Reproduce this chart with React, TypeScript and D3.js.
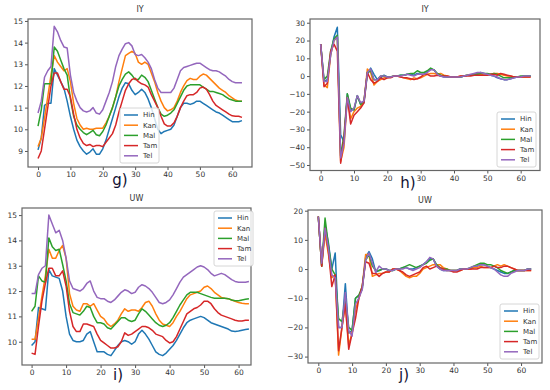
import React, { useEffect, useRef } from 'react';
import * as d3 from 'd3';

// frame index on the x axis (0..63)
const steps = d3.range(64);
const languages = ['Hin', 'Kan', 'Mal', 'Tam', 'Tel'];
const colors = ['#1f77b4', '#ff7f0e', '#2ca02c', '#d62728', '#9467bd'];

// g) IY
const iyHin = [
  9.05, 9.6, 11.1, 11.2, 11.2, 12.8, 12.5, 12.2, 11.9, 11.3, 10.6, 10.0, 9.5, 9.2, 9.0, 8.85,
  8.95, 9.1, 8.85, 8.85, 9.1, 9.5, 10.0, 10.5, 11.0, 11.5, 11.9, 12.15, 12.1, 11.8, 11.6, 11.7,
  11.85, 11.7, 11.4, 11.0, 10.5, 10.0, 9.8, 9.9, 9.95, 10.0, 10.2, 10.6, 11.0, 11.2, 11.2, 11.15,
  11.2, 11.3, 11.3, 11.2, 11.1, 11.0, 10.9, 10.8, 10.75, 10.65, 10.55, 10.45, 10.35, 10.35, 10.35, 10.4,
];
const iyKan = [
  9.2, 9.6, 10.5, 11.5, 12.5, 13.4, 13.1, 12.9, 12.7, 12.8, 12.2, 11.2, 10.5, 10.2, 10.0, 10.05,
  10.0, 10.0, 10.05, 10.05, 10.05, 10.3, 10.6, 11.0, 11.5, 12.2, 12.8, 13.4, 13.5, 13.6, 13.5, 13.1,
  13.0, 13.1, 13.0, 12.6, 12.2, 11.7, 11.3, 11.0, 10.85, 10.9, 11.0, 11.3, 11.7, 12.0, 12.25, 12.35,
  12.3, 12.3, 12.45, 12.55, 12.5, 12.35, 12.2, 12.05, 11.9, 11.8, 11.7, 11.55, 11.45, 11.35, 11.3, 11.3,
];
const iyMal = [
  10.15, 10.9, 12.1, 12.1, 12.1, 13.8, 13.6, 13.2, 12.8, 12.5, 11.4, 10.6, 10.2, 10.0, 9.85, 9.75,
  9.85, 9.95, 9.75, 9.7, 9.9, 10.2, 10.6, 11.0, 11.5, 12.0, 12.3, 12.55, 12.65, 12.5, 12.3, 12.3,
  12.5, 12.4, 12.2, 11.8, 11.4, 11.0, 10.7, 10.6, 10.65, 10.75, 10.9, 11.2, 11.5, 11.8, 12.0, 12.05,
  12.05, 12.05, 12.05, 11.95, 11.85, 11.75, 11.75, 11.7, 11.65, 11.6, 11.5, 11.4, 11.35, 11.3, 11.3, 11.3,
];
const iyTam = [
  8.65, 9.0, 10.0, 11.0, 12.0, 12.6, 12.6, 12.2, 11.85, 11.85, 11.5, 10.7, 10.0, 9.6, 9.35, 9.25,
  9.3, 9.2, 9.25, 9.25, 9.2, 9.4, 9.6, 9.8, 10.2, 10.8, 11.3, 11.8, 12.1, 12.3, 12.35, 12.2,
  12.1, 12.05, 11.95, 11.6, 11.3, 11.0, 10.6, 10.25, 10.15, 10.15, 10.3, 10.6, 11.0, 11.3, 11.55, 11.6,
  11.6, 11.7, 11.9, 11.95, 11.85, 11.6, 11.3, 11.1, 11.0, 10.9, 10.8, 10.7, 10.62, 10.6, 10.6, 10.55,
];
const iyTel = [
  10.75, 11.3, 12.4, 12.7, 12.9, 14.75, 14.5, 14.1, 13.8, 13.75, 12.5, 11.7, 11.3, 11.0, 10.85, 10.8,
  10.85, 11.0, 10.75, 10.7, 10.9, 11.3, 11.7, 12.2, 12.9, 13.4, 13.7, 13.95, 14.0, 13.85, 13.45, 13.4,
  13.45, 13.3, 13.1, 12.8, 12.3, 11.9, 11.7, 11.7, 11.7, 11.7, 11.9, 12.3, 12.7, 12.85, 12.9, 12.95,
  13.0, 13.05, 13.05, 12.95, 12.85, 12.75, 12.7, 12.7, 12.65, 12.55, 12.45, 12.3, 12.2, 12.15, 12.15, 12.15,
];

// h) IY delta
const iyDeltaHin = [
  18, -3, -2, 12, 22, 27.5, -33, -37, -10, -19, -19, -11, -16, -15, 1, 4.5,
  1, -2, -1, 0.5, -0.5, -0.5, 0, 0, 0.5, 0.5, 1, 1, 0.5, 1.5, 1, 1,
  2.5, 4, 3.5, 1, 0, -0.5, -0.5, -0.5, -0.5, -0.5, -0.5, 0, 0.5, 0.5, 1, 1.5,
  2, 1.5, 1, 0.5, 0, -1, -1.5, -2, -2, -1.5, -1, -0.5, -0.5, 0, 0, 0,
];
const iyDeltaKan = [
  18, -5, -6.5, 12, 20, 22, -48, -40, -12, -24, -20, -18, -17, -14, 4, 2,
  -5, -3, -2, -1, -1, -0.5, 0, 0, -0.5, -1, -1.5, -2, -1, -1.5, -1, 0,
  1, 1.5, 1.5, 1, 1.5, 0.5, 0, -0.5, -0.5, -0.5, 0, 0, 0.5, 0.5, 0.5, 1,
  1, 0.5, 0.5, 1, 1.5, 1.5, 1, 0.5, 0, 0, -0.5, -0.5, -0.5, -0.5, -0.5, -0.5,
];
const iyDeltaMal = [
  18, -2, 0, 14, 21, 23, -45, -33, -10, -18, -19, -11, -16, -14, 2, 3,
  -2, -2, 0, 0, -0.5, -0.5, 0, 0, 0.5, 0.5, 1, 1.5, 1.5, 3, 2, 2,
  3, 4.5, 3.5, 1.5, 0.5, 0, -0.5, -0.5, -0.5, -0.5, -0.5, 0, 0.5, 0.5, 1, 1,
  1.5, 1.5, 1.5, 1, 1.5, 1, 0, -1, -1, -1, -0.5, -0.5, 0, 0, 0, 0,
];
const iyDeltaTam = [
  18, -6, -4, 14, 18, 14, -49, -35, -12, -27, -22, -20, -18, -15, 2, -2,
  -4, -3, -1, -2, -1, -1, 0, 0, -0.5, -1, -1, -1.5, -2, -1.5, -0.5, 1,
  1, 0, 0, 0.5, 0, 0, 0, -0.5, -0.5, -0.5, 0, 0, 0, 0, 0.5, 0.5,
  0.5, 0.5, 0.5, 1, 1, 0.5, 1.5, 1, 0.5, 0, -0.5, -0.5, -0.5, -0.5, -0.5, -0.5,
];
const iyDeltaTel = [
  18, -3, -3, 12, 20, 22, -46, -38, -12, -20, -18, -11, -15, -14, 2, 4,
  -2, -2, 0, 0, -0.5, -0.5, 0, 0, 0, 0.5, 1, 0.5, 0, 1, 1, 1,
  2, 3.5, 3.5, 1, 0, -0.5, -0.5, -0.5, -0.5, -0.5, -0.5, 0, 0.5, 1, 1.5, 2,
  2, 1.5, 1, 0.5, 0, -0.5, -1.5, -2, -2, -1.5, -1, -0.5, -0.5, 0, 0, 0,
];

// i) UW
const uwHin = [
  9.85, 10.0, 11.35, 11.3, 11.25, 12.85, 12.6, 12.55, 12.5, 12.0, 11.0, 10.3, 10.05, 10.0, 10.0, 10.05,
  10.3, 10.4, 10.0, 9.6, 9.6, 9.6, 9.5, 9.45, 9.65, 9.85, 10.0, 10.05, 10.0, 9.9, 10.0, 10.3,
  10.45, 10.3, 10.1, 9.85, 9.6, 9.5, 9.45, 9.55, 9.7, 9.85, 10.05, 10.3, 10.55, 10.75, 10.85, 10.9,
  10.95, 11.0, 10.95, 10.85, 10.75, 10.7, 10.65, 10.6, 10.55, 10.5, 10.42, 10.4, 10.42, 10.45, 10.48, 10.5,
];
const uwKan = [
  10.1, 10.1, 10.9, 11.8, 12.6, 13.65, 13.3, 13.3, 13.6, 13.8, 13.3, 11.9, 11.4, 11.25, 11.2, 11.5,
  11.5, 11.4, 11.5, 11.25, 11.0, 10.9, 10.7, 10.6, 10.7, 10.85, 11.1, 11.3, 11.2, 11.25, 11.25, 11.2,
  11.35, 11.55, 11.6, 11.4, 11.1, 10.85, 10.7, 10.65, 10.6, 10.75, 11.0, 11.2, 11.45, 11.7, 11.85, 11.9,
  11.95, 12.0, 12.15, 12.2, 12.1, 11.95, 11.85, 11.75, 11.72, 11.7, 11.65, 11.6, 11.55, 11.52, 11.5, 11.5,
];
const uwMal = [
  11.2, 11.4, 12.6, 12.4, 12.35, 14.1, 13.75, 13.6, 13.65, 13.05, 12.4, 11.5, 11.15, 11.1, 11.05, 11.2,
  11.4, 11.35, 11.0, 10.75, 10.75, 10.7, 10.55, 10.5, 10.65, 10.8, 10.95, 10.95, 10.85, 10.8, 10.85, 11.1,
  11.3, 11.2, 11.05, 10.9, 10.75, 10.65, 10.6, 10.65, 10.75, 10.95, 11.2, 11.45, 11.65, 11.85, 11.95, 11.95,
  11.95, 11.9, 11.85, 11.8, 11.75, 11.72, 11.72, 11.72, 11.72, 11.7, 11.65, 11.62, 11.62, 11.65, 11.68, 11.7,
];
const uwTam = [
  9.55, 9.5, 10.6, 11.6, 12.3, 12.9, 12.9, 12.6, 12.6, 12.8, 12.2, 11.2, 10.6, 10.4, 10.4, 10.7,
  10.7, 10.65, 10.6, 10.3, 10.05, 9.95, 9.85, 9.75, 9.75, 9.8, 10.0, 10.35, 10.25, 10.3, 10.4, 10.5,
  10.6, 10.6, 10.55, 10.45, 10.3, 10.25, 10.2, 10.05, 9.95, 10.0, 10.2, 10.5, 10.8, 11.1, 11.2, 11.3,
  11.35, 11.45, 11.6, 11.6, 11.5, 11.3, 11.15, 11.05, 11.0, 10.95, 10.9, 10.85, 10.82, 10.82, 10.85, 10.85,
];
const uwTel = [
  11.9, 11.9, 12.65, 12.9, 13.0, 15.0, 14.65, 14.3, 14.4, 14.0, 13.3, 12.4, 12.1, 12.05, 12.0, 12.1,
  12.3, 12.4, 12.0, 11.75, 11.7, 11.7, 11.6, 11.55, 11.65, 11.8, 11.95, 12.05, 12.0, 11.9, 11.95, 12.15,
  12.25, 12.2, 12.1, 11.95, 11.75, 11.55, 11.5, 11.55, 11.65, 11.85, 12.1, 12.35, 12.55, 12.65, 12.75, 12.85,
  12.95, 13.0, 12.95, 12.85, 12.7, 12.6, 12.65, 12.7, 12.65, 12.55, 12.45, 12.38, 12.35, 12.35, 12.35, 12.38,
];

// j) UW delta
const uwDeltaHin = [
  18, 1, 15, 9, 0, 5.5, -20, -20, -5, -22, -21, -10, -9, -7, 4, 6,
  3.5, -1, -0.5, 0, 0, -0.5, -0.5, 0, 0, 0.5, 0.5, 0, 0, 0.5, 1, 1.5,
  2.5, 3.5, 3.5, 1, 0, -0.5, -0.5, -0.5, -0.5, -0.5, 0, 0, 0, 0, 0.5, 1,
  1.5, 1.5, 1, 0.5, 0, -0.5, -1, -1.5, -1.5, -1, -0.5, -0.5, -0.5, -0.5, 0, 0,
];
const uwDeltaKan = [
  18, 1, 12, 5, -3, -2, -29.5, -20, -12, -26, -22, -14, -10, -6, 5, 5,
  -2.5, -2, -1.5, -1.5, -1, -1, 0, 0, -0.5, -1.5, -2.5, -3, -2.5, -2.5, -1.5, 0,
  0.5, 1, 1.5, 1.5, 1.5, 0.5, 0, -0.5, -0.5, -0.5, -0.5, 0, 0, 0, 0.5, 0.5,
  1, 0.5, 0.5, 0.5, 1, 1.5, 1, 1.5, 1, 0.5, 0, -0.5, -0.5, -0.5, -0.5, -0.5,
];
const uwDeltaMal = [
  18, 1, 17.5, 8, 0, -2, -17, -18, -10, -20, -21, -10, -9, -6, 3, 5,
  1, -0.5, -0.5, 0, 0, -0.5, -0.5, 0, 0, 0.5, 1, 1.5, 1, 0.5, 1, 1.5,
  2, 3, 3.5, 1.5, 0.5, 0, 0, -0.5, -0.5, -0.5, 0, 0, 0, 0.5, 1, 1.5,
  2, 2, 1.5, 1.5, 1, 0.5, -0.5, -1, -1.5, -1, -0.5, -0.5, -0.5, -0.5, 0, 0,
];
const uwDeltaTam = [
  18, 1, 14, 6, -6, -2, -28, -20, -12, -27.5, -22, -17, -10, -6, 2.5, 2,
  -1.5, -1.5, -2.5, -1.5, -1, -1, 0, 0, -0.5, -1, -2, -2.5, -2, -1.5, -1, 0.5,
  1, 0, 0.5, 1, 0.5, 0, -0.5, -0.5, -1, -1, -0.5, 0, 0, 0, 0, 0,
  0.5, 0.5, 0.5, 0.5, 1, 0.5, 0.5, 1, 1, 0.5, 0, -0.5, -0.5, -0.5, -0.5, -0.5,
];
const uwDeltaTel = [
  18, 2, 14, 7, -2, -3, -20, -20, -8, -21, -23, -12, -10, -7, 3, 5.5,
  2, -1, 1, 0, 0, -0.5, -0.5, 0, 0, 0, 0.5, 0, -0.5, 0, 0.5, 1.5,
  2.5, 4, 3.5, 1, 0, -0.5, -0.5, -0.5, -0.5, -0.5, 0, 0, 0, 0.5, 1, 1,
  1.5, 1.5, 1, 0.5, 0, -1, -2, -2.5, -2.5, -1.5, -1, -0.5, -0.5, -0.5, 0, 0,
];

const xTicks = [0, 10, 20, 30, 40, 50, 60];

// panel layout: axes box in px, axis limits, legend corner and tag position
const panels = [
  {
    title: 'IY', tag: 'g)', series: [iyHin, iyKan, iyMal, iyTam, iyTel],
    box: { left: 28, top: 19, right: 252, bottom: 167 },
    xDomain: [-3.1, 66.1], yDomain: [8.26, 15.09], yTicks: [9, 10, 11, 12, 13, 14, 15],
    legend: { x: 120, y: 108 }, tagPos: { x: 120, y: 185 },
  },
  {
    title: 'IY', tag: 'h)', series: [iyDeltaHin, iyDeltaKan, iyDeltaMal, iyDeltaTam, iyDeltaTel],
    box: { left: 310, top: 19, right: 540, bottom: 170.5 },
    xDomain: [-3.2, 65.8], yDomain: [-53.1, 32.1], yTicks: [-50, -40, -30, -20, -10, 0, 10, 20, 30],
    legend: { x: 497, y: 112 }, tagPos: { x: 408, y: 188 },
  },
  {
    title: 'UW', tag: 'i)', series: [uwHin, uwKan, uwMal, uwTam, uwTel],
    box: { left: 22, top: 208, right: 251, bottom: 365 },
    xDomain: [-2.78, 63.6], yDomain: [9.08, 15.28], yTicks: [10, 11, 12, 13, 14, 15],
    legend: { x: 214, y: 211 }, tagPos: { x: 118, y: 380 },
  },
  {
    title: 'UW', tag: 'j)', series: [uwDeltaHin, uwDeltaKan, uwDeltaMal, uwDeltaTam, uwDeltaTel],
    box: { left: 308, top: 210, right: 542, bottom: 363 },
    xDomain: [-3.05, 66.2], yDomain: [-32.2, 20.24], yTicks: [-30, -20, -10, 0, 10, 20],
    legend: { x: 500, y: 304 }, tagPos: { x: 404, y: 380 },
  },
];

const App = () => {
  const svgRef = useRef(null);

  useEffect(() => {
    const svg = d3.select(svgRef.current);
    svg.selectAll('*').remove();

    svg.append('rect').attr('width', 550).attr('height', 390).attr('fill', '#fff');

    panels.forEach((p) => {
      const { left, top, right, bottom } = p.box;
      const x = d3.scaleLinear().domain(p.xDomain).range([left, right]);
      const y = d3.scaleLinear().domain(p.yDomain).range([bottom, top]);
      const g = svg.append('g');

      // axes
      const xAxis = g.append('g')
        .attr('transform', `translate(0,${bottom})`)
        .call(d3.axisBottom(x).tickValues(xTicks).tickSize(3).tickPadding(2));
      const yAxis = g.append('g')
        .attr('transform', `translate(${left},0)`)
        .call(d3.axisLeft(y).tickValues(p.yTicks).tickSize(3).tickPadding(2)
          .tickFormat(d => d3.format('')(d).replace('-', '\u2212')));
      [xAxis, yAxis].forEach(a => {
        a.select('.domain').remove();
        a.selectAll('line').attr('stroke', '#555');
        a.selectAll('text').attr('fill', '#333').style('font-size', '7.5px')
          .style('font-family', 'DejaVu Sans, sans-serif');
      });

      // lines
      const line = d3.line().x((d, i) => x(steps[i])).y(d => y(d));
      p.series.forEach((values, k) => {
        g.append('path')
          .datum(values)
          .attr('d', line)
          .attr('fill', 'none')
          .attr('stroke', colors[k])
          .attr('stroke-width', 1.5)
          .attr('stroke-linejoin', 'round');
      });

      // frame
      g.append('rect')
        .attr('x', left).attr('y', top)
        .attr('width', right - left).attr('height', bottom - top)
        .attr('fill', 'none').attr('stroke', '#666').attr('stroke-width', 1.2);

      // title
      g.append('text')
        .attr('x', (left + right) / 2).attr('y', top - 7)
        .attr('text-anchor', 'middle')
        .style('font-size', '8px').style('font-family', 'DejaVu Sans, sans-serif')
        .attr('fill', '#333')
        .text(p.title);

      // legend
      const lg = g.append('g').attr('transform', `translate(${p.legend.x},${p.legend.y})`);
      lg.append('rect')
        .attr('width', 39).attr('height', 55).attr('rx', 2)
        .attr('fill', '#fff').attr('fill-opacity', 0.8)
        .attr('stroke', '#ccc').attr('stroke-width', 0.8);
      languages.forEach((name, k) => {
        const ly = 7 + k * 10.2;
        lg.append('line')
          .attr('x1', 4).attr('x2', 18).attr('y1', ly).attr('y2', ly)
          .attr('stroke', colors[k]).attr('stroke-width', 1.5);
        lg.append('text')
          .attr('x', 23).attr('y', ly).attr('dy', '0.35em')
          .style('font-size', '7px').style('font-family', 'DejaVu Sans, sans-serif')
          .attr('fill', '#333')
          .text(name);
      });

      // panel tag
      g.append('text')
        .attr('x', p.tagPos.x).attr('y', p.tagPos.y)
        .attr('text-anchor', 'middle')
        .style('font-size', '15px').style('font-family', 'DejaVu Sans, sans-serif')
        .attr('fill', '#111133')
        .text(p.tag);
    });
  }, []);

  return (
    <svg ref={svgRef} width={550} height={390}
      style={{ position: 'absolute', left: 0, top: 0, display: 'block' }} />
  );
};

export default App;
